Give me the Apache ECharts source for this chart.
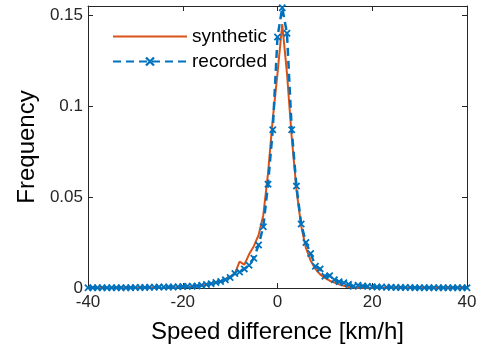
<!DOCTYPE html>
<html>
<head>
<meta charset="utf-8">
<script src="https://cdn.jsdelivr.net/npm/echarts@6/dist/echarts.min.js"></script>
<style>html,body{margin:0;padding:0;background:#fff}#c{width:481px;height:344px}</style>
</head>
<body>
<div id="c"></div>
<script>
// Speed difference bins [km/h]
var speedDiff = [];
for (var k = -40; k <= 40; k++) speedDiff.push(k);

// synthetic frequencies
var synthetic = [
  0.0001,0.0001,0.0001,0.0001,0.0001,0.0001,0.0001,0.0001,0.0001,0.0001,
  0.0002,0.0002,0.0002,0.0002,0.0002,0.0002,0.0002,0.0003,0.0003,0.0004,
  0.0004,0.0005,0.0007,0.0010,0.0013,0.0018,0.0025,0.0030,0.0038,0.0050,
  0.0062,0.0080,0.0145,0.0128,0.0185,0.0230,0.0290,0.0400,0.0630,0.0930,
  0.1180,0.1450,0.1180,0.0830,0.0540,0.0340,0.0220,0.0150,0.0105,0.0075,
  0.0055,0.0040,0.0030,0.0020,0.0012,0.0005,0.0003,0.0002,0.0001,0.0001,
  0.0001,0.0001,0.0001,0.0001,0.0001,0.0001,0.0001,0.0001,0.0001,0.0001,
  0.0001,0.0001,0.0001,0.0001,0.0001,0.0001,0.0001,0.0001,0.0001,0.0001,
  0.0001
];

// recorded frequencies
var recorded = [
  0.0001,0.0001,0.0001,0.0001,0.0001,0.0002,0.0001,0.0002,0.0002,0.0002,
  0.0003,0.0003,0.0003,0.0004,0.0004,0.0005,0.0005,0.0006,0.0006,0.0007,
  0.0008,0.0009,0.0010,0.0011,0.0015,0.0019,0.0024,0.0030,0.0036,0.0045,
  0.0058,0.0080,0.0088,0.0105,0.0125,0.0163,0.0236,0.0337,0.0570,0.0870,
  0.1380,0.1540,0.1400,0.0870,0.0560,0.0352,0.0250,0.0190,0.0120,0.0105,
  0.0065,0.0068,0.0045,0.0035,0.0029,0.0020,0.0009,0.0015,0.0011,0.0009,
  0.0007,0.0005,0.0005,0.0004,0.0004,0.0003,0.0003,0.0003,0.0003,0.0002,
  0.0002,0.0002,0.0002,0.0002,0.0001,0.0001,0.0001,0.0001,0.0001,0.0001,
  0.0001
];

var xTicks = [-40, -20, 0, 20, 40];
var yTicks = [0, 0.05, 0.1, 0.15];
var seriesNames = ['synthetic', 'recorded'];

var FONT = "'Liberation Sans', Arial, Helvetica, sans-serif";
var AX = '#262626';
var ORANGE = '#D95319';
var BLUE = '#0072BD';
var XMARK = 'path://M0,1.7L1.7,0L10,8.3L8.3,10ZM8.3,0L10,1.7L1.7,10L0,8.3Z';

function yLab(v) {
  for (var i = 0; i < yTicks.length; i++) if (Math.abs(v - yTicks[i]) < 1e-9) return String(yTicks[i]);
  return '';
}
function xLab(v) {
  return xTicks.indexOf(Math.round(v)) >= 0 && Math.abs(v - Math.round(v)) < 1e-9 ? String(Math.round(v)) : '';
}

var chart = echarts.init(document.getElementById('c'), null, {renderer: 'canvas'});
var axLine = {show: true, onZero: false, lineStyle: {color: AX, width: 1}};
var axTick = {show: true, inside: true, length: 5, lineStyle: {color: AX, width: 1}};

chart.setOption({
  animation: false,
  backgroundColor: '#fff',
  grid: {left: 88, right: 14, top: 6, bottom: 56, containLabel: false, outerBoundsMode: 'none'},
  legend: {
    data: [
      {name: seriesNames[0], itemStyle: {color: 'rgba(0,0,0,0)', borderWidth: 0}},
      {name: seriesNames[1]}
    ],
    orient: 'vertical',
    left: 107,
    top: 22,
    itemWidth: 74,
    itemHeight: 12,
    itemGap: 6,
    textStyle: {fontFamily: FONT, fontSize: 19, color: '#000', lineHeight: 19, padding: [0, 0, 0, 0]},
    backgroundColor: 'transparent'
  },
  xAxis: [{
    type: 'value', min: -40, max: 40, interval: 20, position: 'bottom',
    name: 'Speed difference [km/h]', nameLocation: 'middle', nameGap: 32,
    nameTextStyle: {fontFamily: FONT, fontSize: 24, color: '#000'},
    axisLine: axLine, axisTick: axTick,
    axisLabel: {fontFamily: FONT, fontSize: 17, color: AX, margin: 6, formatter: xLab},
    splitLine: {show: false}
  }, {
    type: 'value', min: -40, max: 40, interval: 20, position: 'top',
    axisLine: axLine, axisTick: axTick, axisLabel: {show: false}, splitLine: {show: false}
  }],
  yAxis: [{
    type: 'value', min: 0, max: 0.155, interval: 0.05, position: 'left',
    name: 'Frequency', nameLocation: 'middle', nameGap: 47,
    nameTextStyle: {fontFamily: FONT, fontSize: 24, color: '#000'},
    axisLine: axLine, axisTick: axTick,
    axisLabel: {fontFamily: FONT, fontSize: 17, color: AX, margin: 5, formatter: yLab},
    splitLine: {show: false}
  }, {
    type: 'value', min: 0, max: 0.155, interval: 0.05, position: 'right',
    axisLine: axLine, axisTick: axTick, axisLabel: {show: false}, splitLine: {show: false}
  }],
  series: [{
    name: seriesNames[0], type: 'line',
    data: speedDiff.map(function (x, i) { return [x, synthetic[i]]; }),
    symbol: 'none', showSymbol: false,
    lineStyle: {color: ORANGE, width: 2},
    itemStyle: {color: ORANGE},
    z: 2
  }, {
    name: seriesNames[1], type: 'line',
    data: speedDiff.map(function (x, i) { return [x, recorded[i]]; }),
    symbol: XMARK, symbolSize: 7.5, showSymbol: true,
    lineStyle: {color: BLUE, width: 2.5, type: [8, 5]},
    itemStyle: {color: BLUE, borderWidth: 0},
    z: 3
  }]
});
</script>
</body>
</html>
